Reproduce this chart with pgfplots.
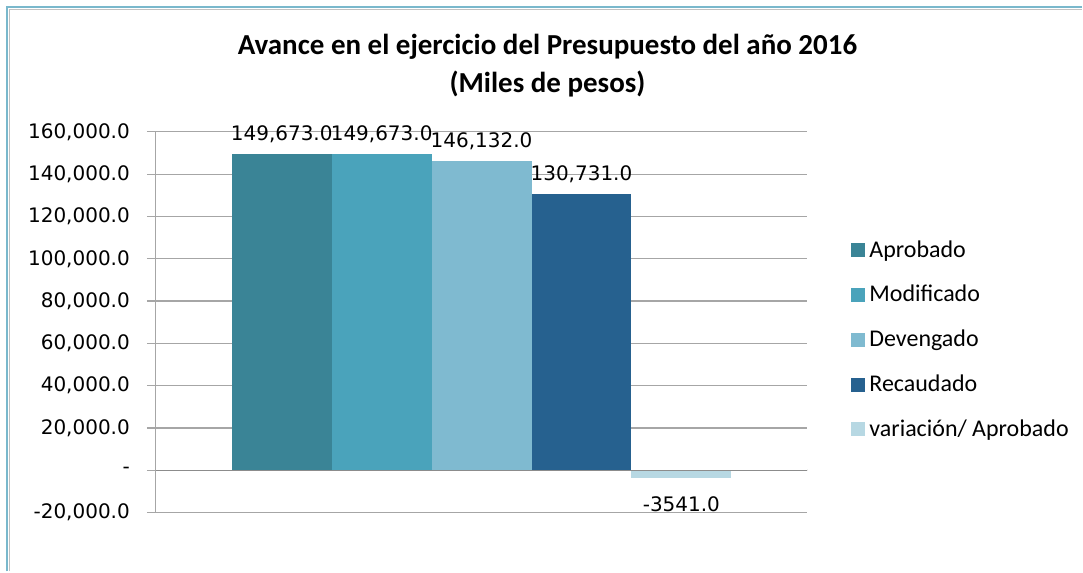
\documentclass[border=0pt]{standalone}
\usepackage{pgfplots}
\pgfplotsset{compat=1.18}
\usepackage{fontspec}
\setmainfont{Carlito}
\newfontfamily\dejavu{DejaVu Sans}
\definecolor{cA}{HTML}{3A8496}
\definecolor{cB}{HTML}{4AA3BB}
\definecolor{cC}{HTML}{7FBAD0}
\definecolor{cD}{HTML}{26618F}
\definecolor{cE}{HTML}{B7D8E3}
\definecolor{gridc}{HTML}{A6A6A6}
\definecolor{axc}{HTML}{8C8C8C}
\definecolor{frameblue}{HTML}{7AB8CC}
\begin{document}
\begin{tikzpicture}
\path (0,0) rectangle (541.5pt,286pt);
% chart frame (left and top)
\draw[frameblue, line width=1pt] (3.75pt,0) -- (3.75pt,282.25pt) -- (541.5pt,282.25pt);
\draw[gridc!70, line width=0.5pt] (4.75pt,0) -- (4.75pt,281.25pt) -- (541.5pt,281.25pt);
\node[font=\bfseries\fontsize{14.5}{17}\selectfont] at (274pt,262.5pt) {Avance en el ejercicio del Presupuesto del año 2016};
\node[font=\bfseries\fontsize{14.5}{17}\selectfont] at (274pt,244pt) {(Miles de pesos)};
\begin{axis}[
  at={(78pt,29.5pt)}, anchor=south west,
  scale only axis, width=326pt, height=190.5pt,
  ybar=0pt, bar width=50pt,
  xmin=-1, xmax=1, ymin=-20000, ymax=160000,
  scaled y ticks=false,
  xtick=\empty,
  ytick={-20000,0,20000,40000,60000,80000,100000,120000,140000,160000},
  yticklabels={{-20,000.0},{-},{20,000.0},{40,000.0},{60,000.0},{80,000.0},{100,000.0},{120,000.0},{140,000.0},{160,000.0}},
  axis y line=left, axis x line=none,
  y axis line style={-, draw=gridc, line width=0.6pt},
  ymajorgrids, grid style={gridc, line width=0.6pt},
  ytick style={draw=gridc, line width=0.6pt},
  tick align=outside, major tick length=4.5pt,
  yticklabel style={font=\dejavu\fontsize{10}{12}\selectfont, text=black, xshift=-5pt},
  nodes near coords, nodes near coords align=vertical,
  every node near coord/.append style={font=\dejavu\fontsize{10}{12}\selectfont, text=black, yshift=2pt},
  /pgf/number format/assume math mode=true,
  /pgf/number format/fixed, /pgf/number format/fixed zerofill,
  /pgf/number format/precision=1, /pgf/number format/1000 sep={,},
  legend style={at={(1.058,0.737)}, anchor=north west, draw=none, fill=none,
    font=\fontsize{12}{14}\selectfont, row sep=8.6pt},
  legend cell align=left,
  legend image code/.code={\fill[#1] (0pt,-3.5pt) rectangle (7pt,3.5pt);},
]
\addplot[fill=cA, draw=none] coordinates {(0,149673)};
\addplot[fill=cB, draw=none] coordinates {(0,149673)};
\addplot[fill=cC, draw=none] coordinates {(0,146132)};
\addplot[fill=cD, draw=none] coordinates {(0,130731)};
\addplot[fill=cE, draw=none, /pgf/number format/1000 sep={},
  every node near coord/.append style={yshift=-8pt}] coordinates {(0,-3541)};
\legend{Aprobado,Modificado,Devengado,Recaudado,variación/ Aprobado}
\draw[axc, line width=0.6pt] (axis cs:-1,0) -- (axis cs:1,0);
\draw[axc, line width=0.6pt] (axis cs:1,0) -- ++(0,-4.5pt);
\node[font=\fontsize{11}{13}\selectfont] at (axis cs:0,-20000) [yshift=-17.5pt] {Ejercicio 2016};
\end{axis}
\end{tikzpicture}
\end{document}
